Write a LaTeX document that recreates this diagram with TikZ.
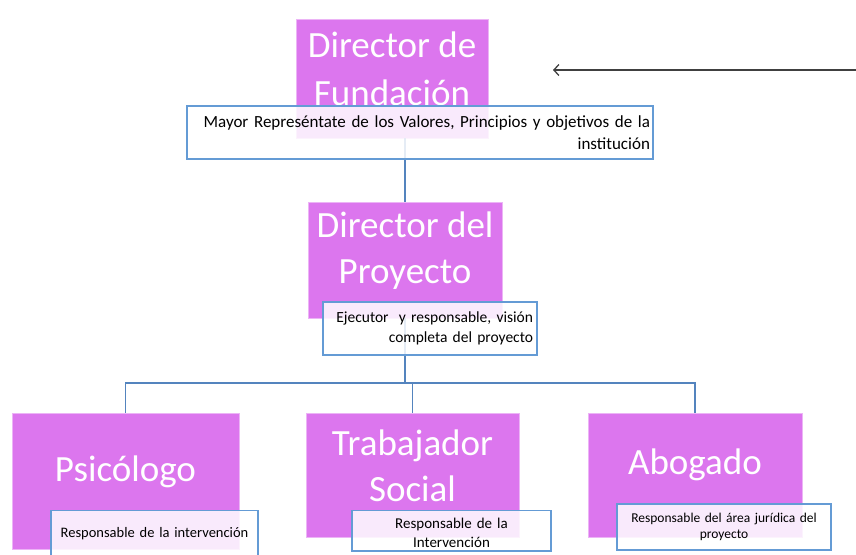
\documentclass[tikz,border=0pt]{standalone}
\usepackage{fontspec}
\setmainfont{Carlito}
\usepackage{xcolor}
\usetikzlibrary{arrows.meta, positioning}
\definecolor{rolepink}{RGB}{220,118,238}
\definecolor{noteblue}{RGB}{100,155,213}
\definecolor{linkblue}{RGB}{84,132,190}
\tikzset{
  role/.style={fill=rolepink, draw=rolepink!55!white, line width=0.5pt},
  roletext/.style={text=white, align=center, inner sep=0pt,
    font=\fontsize{37}{46}\selectfont},
  note/.style={draw=noteblue, line width=1.2pt, fill=white, fill opacity=0.85,
    text opacity=1, inner xsep=3pt},
  link/.style={draw=linkblue, line width=1.5pt},
}

\begin{document}
\begin{tikzpicture}[x=1pt, y=-1pt]
  \clip (0,0) rectangle (856,554);

  % cargos
  \node[role, minimum width=192pt, minimum height=119pt] (fund) at (392,78.5) {};
  \node[role, minimum width=194pt, minimum height=116pt] (proy) at (405,260) {};
  \node[role, minimum width=227pt, minimum height=136pt] (psic) at (125.5,481) {};
  \node[role, minimum width=213pt, minimum height=124pt] (trab) at (412.5,475) {};
  \node[role, minimum width=214pt, minimum height=124pt] (abog) at (695,475) {};

  % conectores
  \coordinate (bus) at (405,383);
  \draw[link] (fund.south -| proy.north) -- (proy.north);
  \draw[link] (proy.south) -- (bus);
  \draw[link] (psic.north) |- (bus) -| (abog.north);
  \draw[link] (trab.north) -- (trab.north |- bus);

  % textos de los cargos
  \node[roletext, font=\fontsize{37}{48}\selectfont] (fundtxt) at (392,68.5)
    {Director de\\Fundación};
  \node[roletext] (proytxt) at (405,251) {Director del\\Proyecto};
  \node[roletext] (psictxt) at (125.5,472) {Psicólogo};
  \node[roletext] (trabtxt) at (412.5,466) {Trabajador\\Social};
  \node[roletext] (abogtxt) at (695,465) {Abogado};

  % notas
  \node[note, text width=460pt, minimum height=53pt, align=right,
    font=\fontsize{17}{22}\selectfont] (fundnote) at (420,132.5)
    {Mayor Represéntate de los Valores, Principios y objetivos de la\\institución};
  \node[note, text width=206pt, inner xsep=4pt, minimum height=53pt, align=right,
    font=\fontsize{15.5}{20}\selectfont] (proynote) at (430,328.5)
    {Ejecutor\ \ y responsable, visión\\completa del proyecto};
  \node[note, text width=201pt, anchor=north, inner ysep=17pt, text depth=12pt,
    align=center, font=\fontsize{14.5}{18}\selectfont] (psicnote) at (154.5,510)
    {Responsable de la intervención};
  \node[note, text width=193pt, anchor=north, inner ysep=7.5pt, text depth=15pt,
    align=center, font=\fontsize{15}{19}\selectfont] (trabnote) at (451.5,510)
    {Responsable de la\\Intervención};
  \node[note, text width=208pt, minimum height=46pt, align=center,
    font=\fontsize{13.5}{16.5}\selectfont] (abognote) at (724,527)
    {Responsable del área jurídica del\\proyecto};

  % flecha
  \coordinate (arrtail) at (856,70);
  \coordinate (arrhead) at (553,70);
  \draw[-{Straight Barb[length=5pt,width=11pt]}, line width=1.3pt, black!75]
    (arrtail) -- (arrhead);
\end{tikzpicture}
\end{document}
